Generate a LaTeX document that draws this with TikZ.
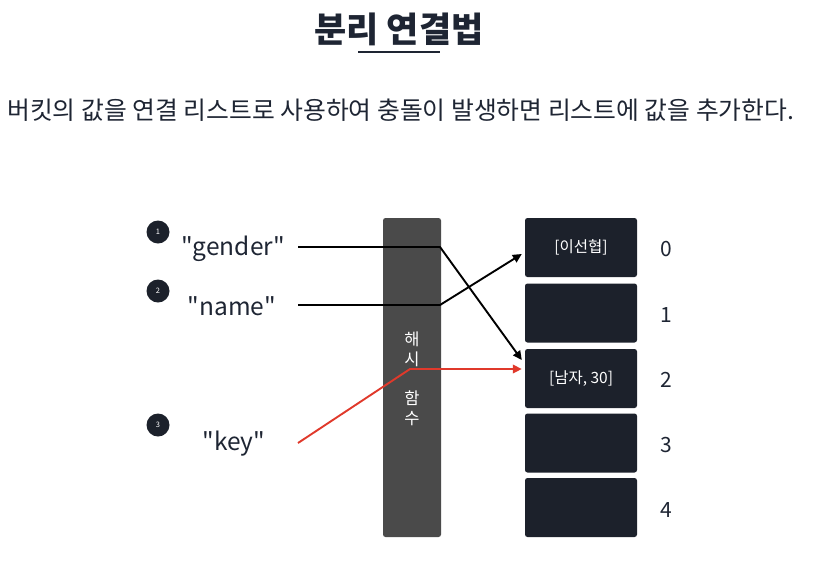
\documentclass[tikz,border=0pt]{standalone}
\usepackage{fontspec}
\setmainfont{Noto Sans CJK KR}[Ligatures=TeXOff]
\usetikzlibrary{arrows.meta}
\definecolor{ink}{HTML}{1E2533}
\definecolor{boxc}{HTML}{1C212B}
\definecolor{hashc}{HTML}{4A4A4A}
\definecolor{redc}{HTML}{E0392B}
\tikzset{
  bucket/.style={draw=none, fill=boxc, rounded corners=2.5pt, minimum width=112pt, minimum height=59pt, inner sep=0pt, text=white, font=\fontsize{15.5}{18}\selectfont},
  badge/.style={circle, fill=boxc, minimum size=23pt, inner sep=0pt, text=white, font=\fontsize{7.5}{8}\selectfont},
  keytext/.style={text=ink, font=\fontsize{24.5}{28}\selectfont, inner sep=0pt},
  idx/.style={text=ink, font=\fontsize{21}{24}\selectfont, inner sep=0pt},
  link/.style={line width=1.9pt, -{Triangle[length=9pt,width=8.5pt]}},
}
\begin{document}
\begin{tikzpicture}[x=1pt,y=-1pt]
\useasboundingbox (0,0) rectangle (826,563);
% title
\node[text=ink, font=\fontsize{35}{40}\selectfont\bfseries] (title) at (399,29) {분리 연결법};
\draw[ink, line width=2pt] (358,52) -- (440,52);
\node[text=ink, font=\fontsize{24.8}{28}\selectfont, anchor=west, inner sep=0pt] (sub) at (7,110) {버킷의 값을 연결 리스트로 사용하여 충돌이 발생하면 리스트에 값을 추가한다.};
% hash function column
\node[fill=hashc, rounded corners=2.5pt, minimum width=58pt, minimum height=319pt, inner sep=0pt] (hash) at (412,377.5) {};
\node[text=white, font=\fontsize{16.5}{19.5}\selectfont, align=center, inner sep=0pt] (hashlbl) at (412,379) {해\\시\\[20pt]함\\수};
% buckets
\node[bucket] (b0) at (581,247.5) {[이선협]};
\node[bucket] (b1) at (581,313) {};
\node[bucket] (b2) at (581,378.5) {[남자, 30]};
\node[bucket] (b3) at (581,443) {};
\node[bucket] (b4) at (581,507.5) {};
\node[idx] (i0) at (666,249) {0};
\node[idx] (i1) at (666,315) {1};
\node[idx] (i2) at (666,380) {2};
\node[idx] (i3) at (666,445) {3};
\node[idx] (i4) at (666,510) {4};
% badges
\node[badge] (c1) at (158,232) {1};
\node[badge] (c2) at (158,291) {2};
\node[badge] (c3) at (158,425) {3};
% keys
\node[keytext] (kg) at (233,249) {"gender"};
\node[keytext] (kn) at (232,306) {"name"};
\node[keytext] (kk) at (234,444) {"key"};
\coordinate (g0) at (298,247);
\coordinate (g1) at (440,247);
\coordinate (n0) at (298,305);
\coordinate (n1) at (440,305);
\coordinate (r0) at (298,443);
\coordinate (r1) at (410,369);
\coordinate (gEnd) at ([xshift=-3pt,yshift=18.5pt]b2.west);
\coordinate (rEnd) at ([xshift=-3pt,yshift=9.5pt]b2.west);
\coordinate (nEnd) at ([xshift=-3pt,yshift=-6.5pt]b0.west);
\draw[link, black] (g0) -- (g1) -- (gEnd);
\draw[link, black] (n0) -- (n1) -- (nEnd);
\draw[link, redc] (r0) -- (r1) -- (rEnd);
\end{tikzpicture}
\end{document}
